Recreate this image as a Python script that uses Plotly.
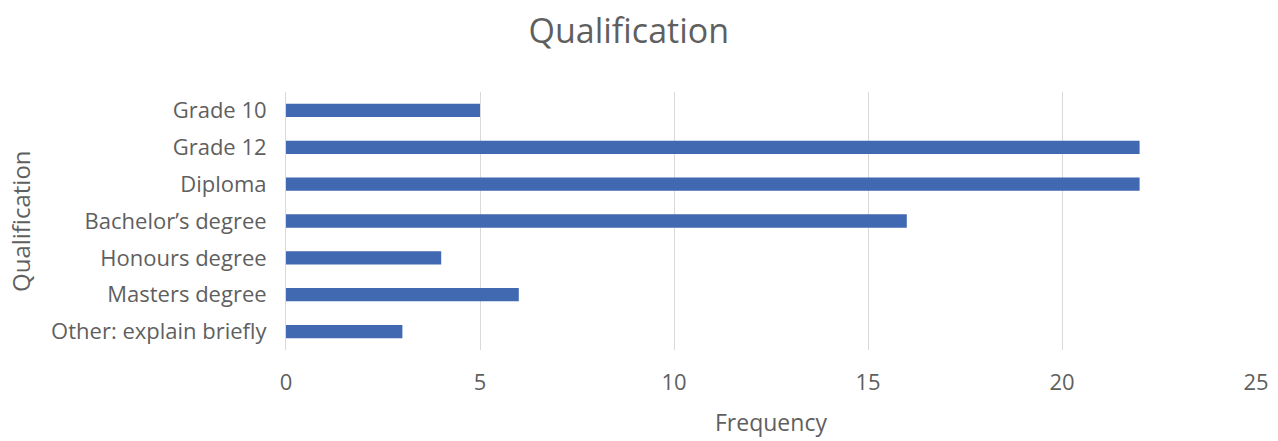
import plotly.graph_objects as go

categories = ["Grade 10", "Grade 12", "Diploma", "Bachelor’s degree",
              "Honours degree", "Masters degree", "Other: explain briefly"]
frequency = [5, 22, 22, 16, 4, 6, 3]
x_ticks = [0, 5, 10, 15, 20, 25]

FONT = "Open Sans"
GRAY = "#5f5f5f"

fig = go.Figure(go.Bar(
    y=categories, x=frequency, orientation="h",
    marker=dict(color="#4169B2", line=dict(width=0)),
))

fig.update_layout(
    width=1278, height=441,
    margin=dict(l=286, r=22, t=92, b=91, autoexpand=False),
    paper_bgcolor="white", plot_bgcolor="white",
    bargap=0.64,
    showlegend=False,
    font=dict(family=FONT, color=GRAY, size=22),
    title=dict(text="Qualification", x=0.492, xanchor="center", y=0.93, yanchor="middle",
               font=dict(size=34, color=GRAY, family=FONT)),
    annotations=[
        dict(text="Frequency", xref="paper", yref="paper", x=0.5, y=0,
             xanchor="center", yanchor="middle", yshift=-72, showarrow=False,
             borderpad=0, font=dict(size=23, color=GRAY)),
        dict(text="Qualification", xref="paper", yref="paper", x=0, y=0.5,
             xanchor="center", yanchor="middle", xshift=-266, showarrow=False,
             textangle=-90, font=dict(size=24, color=GRAY)),
    ],
)
fig.update_xaxes(
    range=[0, 25], tickvals=x_ticks, showgrid=True, gridcolor="#D9D9D9", gridwidth=1,
    zeroline=False, showline=False, ticks="", ticklabelstandoff=17, automargin=False,
    tickfont=dict(size=22, color=GRAY),
)
fig.update_yaxes(
    categoryorder="array", categoryarray=categories, autorange="reversed",
    showline=True, linecolor="#D9D9D9", linewidth=1, ticks="", ticklabelstandoff=14,
    automargin=False,
    tickfont=dict(size=22, color=GRAY),
)

fig.write_html("out.html")
